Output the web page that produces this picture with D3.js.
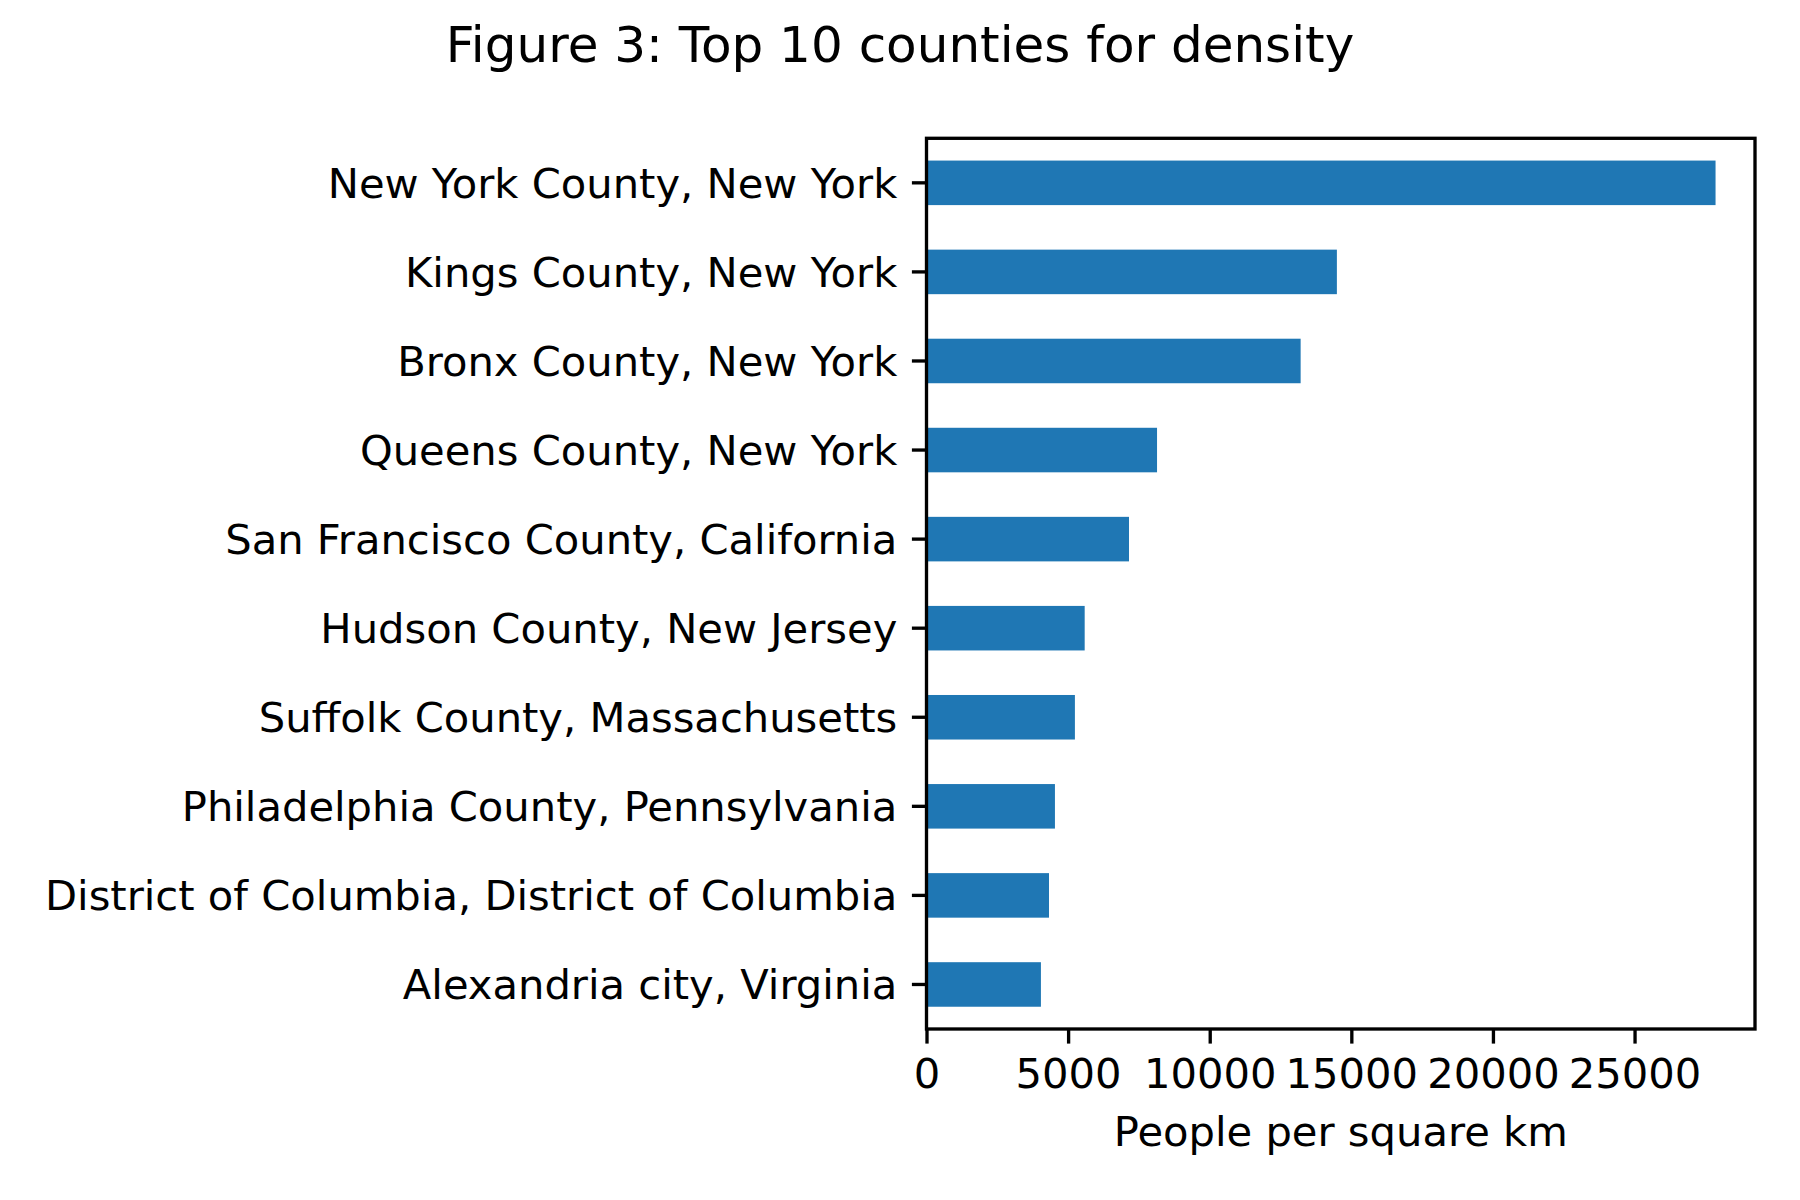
<!DOCTYPE html>
<html>
<head>
<meta charset="utf-8">
<script src="https://cdn.jsdelivr.net/npm/d3@7"></script>
<style>
  html, body { margin: 0; padding: 0; background: #fff; }
  svg { display: block; }
  text { font-family: "DejaVu Sans", sans-serif; fill: #000; }
</style>
</head>
<body>
<div id="chart"></div>
<script>
const counties = [
  "New York County, New York",
  "Kings County, New York",
  "Bronx County, New York",
  "Queens County, New York",
  "San Francisco County, California",
  "Hudson County, New Jersey",
  "Suffolk County, Massachusetts",
  "Philadelphia County, Pennsylvania",
  "District of Columbia, District of Columbia",
  "Alexandria city, Virginia"
];
const density = [27860, 14490, 13210, 8140, 7150, 5585, 5240, 4535, 4325, 4040];
const xTicks = [0, 5000, 10000, 15000, 20000, 25000];
const titleText = "Figure 3: Top 10 counties for density";
const xLabelText = "People per square km";

const W = 1800, H = 1200;
const m = { left: 926.5, right: 1755, top: 138.3, bottom: 1029 };
const lw = 3.33, tickLen = 14.6, fs = 41.67;

const svg = d3.select("#chart").append("svg").attr("width", W).attr("height", H);
svg.append("rect").attr("width", W).attr("height", H).attr("fill", "#fff");

const x = d3.scaleLinear()
  .domain([0, d3.max(density) * 1.05])
  .range([m.left, m.right]);

const y = d3.scaleBand()
  .domain(counties)
  .range([m.top, m.bottom])
  .paddingInner(0.5)
  .paddingOuter(0.25);

// bars
svg.append("g").selectAll("rect")
  .data(counties)
  .join("rect")
  .attr("x", x(0))
  .attr("y", d => y(d))
  .attr("width", (d, i) => x(density[i]) - x(0))
  .attr("height", y.bandwidth())
  .attr("fill", "#1f77b4");

// x axis
const xAxis = svg.append("g")
  .attr("transform", `translate(0,${m.bottom})`)
  .call(d3.axisBottom(x).tickValues(xTicks).tickFormat(d3.format("d"))
        .tickSize(tickLen).tickPadding(14.6));
xAxis.select(".domain").remove();
xAxis.selectAll(".tick line").attr("stroke", "#000").attr("stroke-width", lw);
xAxis.selectAll(".tick text")
  .attr("font-size", fs)
  .attr("font-family", "DejaVu Sans")
  .attr("fill", "#000");

// y axis
const yAxis = svg.append("g")
  .attr("transform", `translate(${m.left},0)`)
  .call(d3.axisLeft(y).tickSize(tickLen).tickPadding(14.6));
yAxis.select(".domain").remove();
yAxis.selectAll(".tick line").attr("stroke", "#000").attr("stroke-width", lw);
yAxis.selectAll(".tick text")
  .attr("font-size", fs)
  .attr("font-family", "DejaVu Sans")
  .attr("fill", "#000")
  .attr("dy", "0.36em");

// frame
svg.append("rect")
  .attr("x", m.left).attr("y", m.top)
  .attr("width", m.right - m.left).attr("height", m.bottom - m.top)
  .attr("fill", "none").attr("stroke", "#000").attr("stroke-width", lw)
  .attr("stroke-linejoin", "miter");

// x label
svg.append("text")
  .attr("x", (m.left + m.right) / 2)
  .attr("y", 1145.5)
  .attr("text-anchor", "middle")
  .attr("font-size", fs)
  .text(xLabelText);

// title
svg.append("text")
  .attr("x", W / 2)
  .attr("y", 61.5)
  .attr("text-anchor", "middle")
  .attr("font-size", 50)
  .text(titleText);
</script>
</body>
</html>
